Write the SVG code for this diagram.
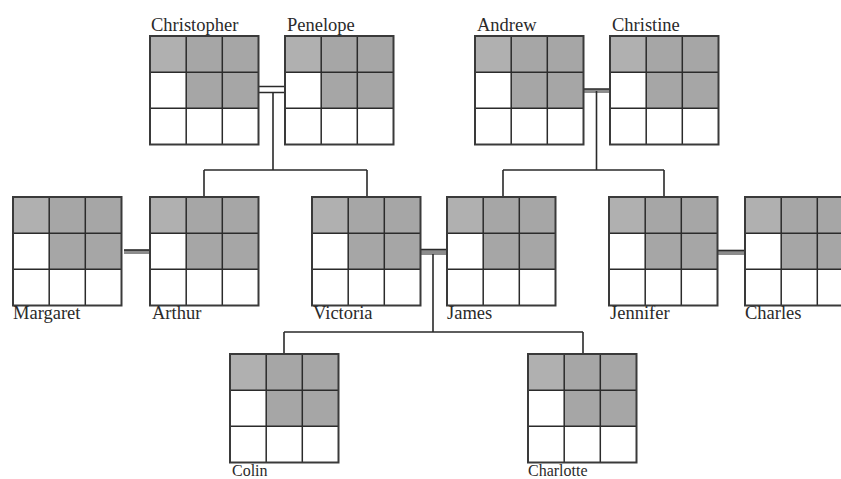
<svg xmlns="http://www.w3.org/2000/svg" width="841" height="479" viewBox="0 0 841 479">
<style>
.lbl{font-family:"Liberation Serif","Times New Roman",serif;font-size:18.5px;fill:#2a2a2a}
.small{font-size:16px}
.sh{fill:#a6a6a6}
.sh2{fill:#b0b0b0}
.grid{fill:none;stroke:#2b2b2b;stroke-width:1.5}
.outer{fill:none;stroke:#3a3a3a;stroke-width:2}
.conn{fill:none;stroke:#2a2a2a;stroke-width:1.6}
.band{fill:#8c8c8c}
</style>
<defs>
<g id="grid">
<rect x="0" y="0" width="108.5" height="108.5" fill="#fff"/>
<rect class="sh" x="0" y="0" width="108.5" height="36.2"/>
<rect class="sh2" x="0" y="0" width="36.2" height="36.2"/>
<rect class="sh" x="36.2" y="36.2" width="72.3" height="36.2"/>
<path class="grid" d="M36.2 0V108.5M72.3 0V108.5M0 36.2H108.5M0 72.3H108.5"/>
<rect class="outer" x="0" y="0" width="108.5" height="108.5"/>
</g>
</defs>
<g id="connectors">
<path class="conn" d="M259 86.5H285M259 92.5H285M273 93V170M204 170H367M204 170V197M367 170V197"/>
<rect class="band" x="583" y="89" width="27" height="4"/>
<path class="conn" d="M583 89H610M596.5 91V170M503 170H664M503 170V197M664 170V197"/>
<rect class="band" x="124" y="250" width="26" height="4"/>
<path class="conn" d="M124 250H150"/>
<rect class="band" x="420" y="250" width="27" height="5"/>
<path class="conn" d="M420 249.5H447M433 254V332M284 332H583M284 332V354M583 332V354"/>
<rect class="band" x="718" y="250" width="27" height="5" fill="#6a6a6a"/>
<path class="conn" d="M718 250.5H745"/>
</g>
<g id="christopher"><use href="#grid" x="150" y="36"/><text class="lbl" x="151" y="31">Christopher</text></g>
<g id="penelope"><use href="#grid" x="285" y="36"/><text class="lbl" x="287" y="31">Penelope</text></g>
<g id="andrew"><use href="#grid" x="475" y="36"/><text class="lbl" x="477" y="31">Andrew</text></g>
<g id="christine"><use href="#grid" x="610" y="36"/><text class="lbl" x="612" y="31">Christine</text></g>
<g id="margaret"><use href="#grid" x="13" y="197"/><text class="lbl" x="13" y="319">Margaret</text></g>
<g id="arthur"><use href="#grid" x="150" y="197"/><text class="lbl" x="152" y="319">Arthur</text></g>
<g id="victoria"><use href="#grid" x="312" y="197"/><text class="lbl" x="313" y="319">Victoria</text></g>
<g id="james"><use href="#grid" x="447" y="197"/><text class="lbl" x="447" y="319">James</text></g>
<g id="jennifer"><use href="#grid" x="609" y="197"/><text class="lbl" x="610" y="319">Jennifer</text></g>
<g id="charles"><use href="#grid" x="745" y="197"/><text class="lbl" x="745" y="319">Charles</text></g>
<g id="colin"><use href="#grid" x="230" y="354"/><text class="lbl small" x="232" y="475.5">Colin</text></g>
<g id="charlotte"><use href="#grid" x="528" y="354"/><text class="lbl small" x="528" y="475.5">Charlotte</text></g>
</svg>
